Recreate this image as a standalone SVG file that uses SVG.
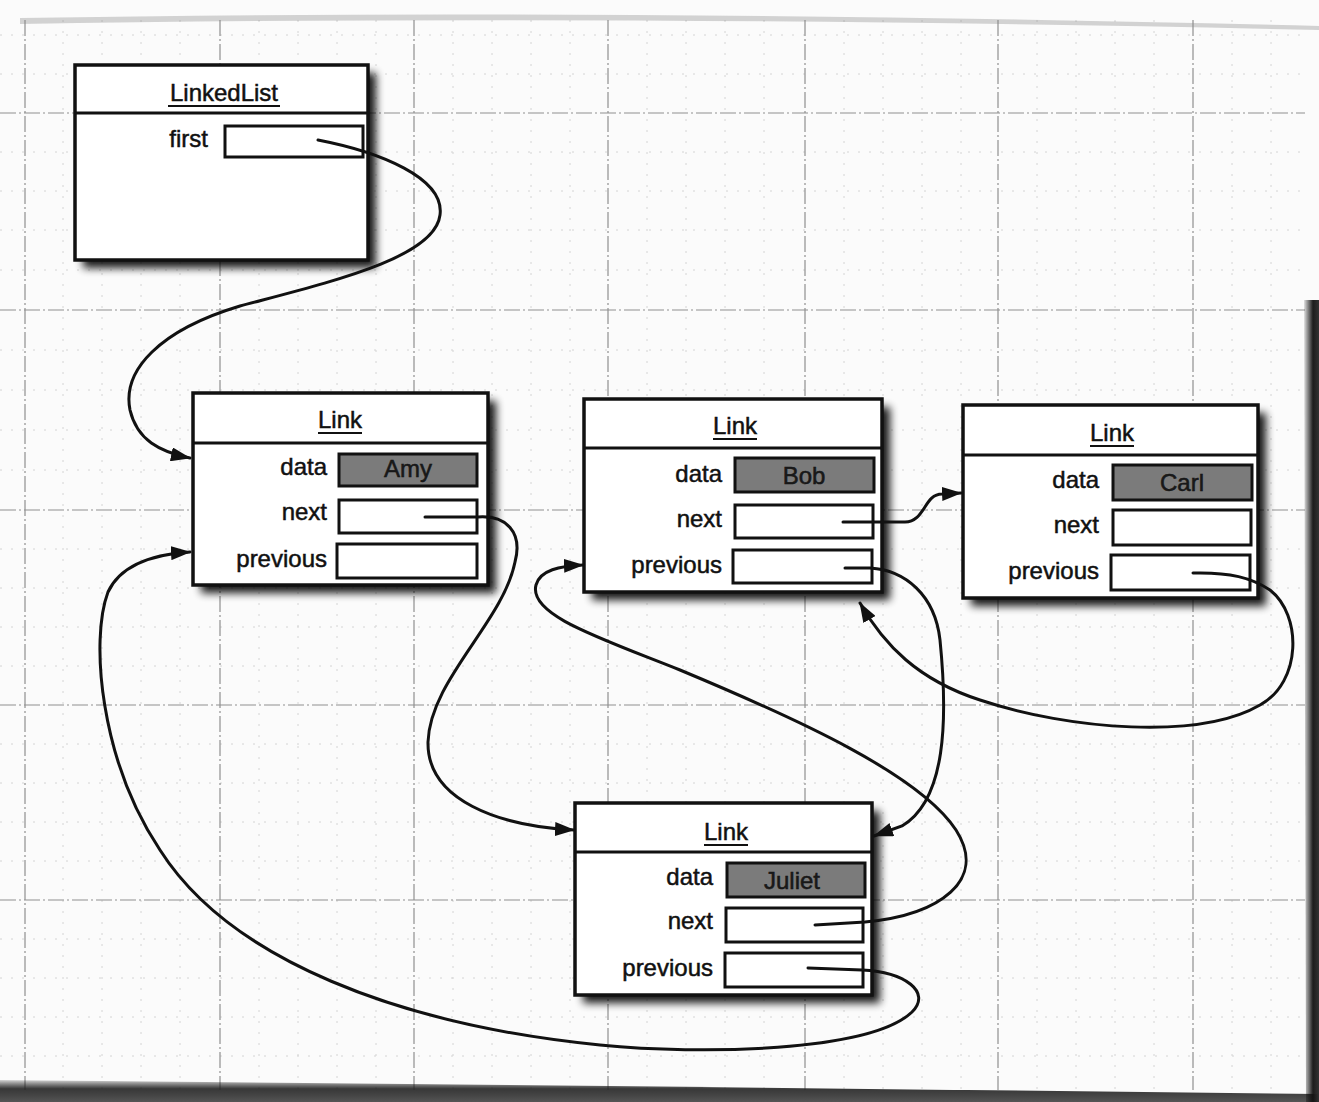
<svg xmlns="http://www.w3.org/2000/svg" width="1319" height="1102" viewBox="0 0 1319 1102">
<defs>
<style>
.bg{fill:#fbfbfb}
.gmaj{stroke:#8f8f8f;stroke-width:1.2;stroke-dasharray:16 3 2 3;fill:none}
.gmin{stroke:#d4d4d4;stroke-width:1;stroke-dasharray:2 9;fill:none}
.box{fill:#fff;stroke:#111;stroke-width:3.5}
.shadow{fill:#000;opacity:0.9;filter:url(#blur)}
.hdr{stroke:#111;stroke-width:3}
.fld{fill:#fff;stroke:#111;stroke-width:3}
.dat{fill:#7b7b7b;stroke:#111;stroke-width:3}
.t{font-family:"Liberation Sans",Arial,Helvetica,sans-serif;font-size:24px;fill:#111;stroke:#111;stroke-width:0.5}
.lbl{text-anchor:end}
.ttl{text-anchor:middle}
.val{text-anchor:middle;fill:#1a1a1a}
.ul{stroke:#111;stroke-width:2}
.conn{fill:none;stroke:#111;stroke-width:3;stroke-linecap:round}
</style>
<filter id="blur" x="-10%" y="-10%" width="130%" height="130%"><feGaussianBlur stdDeviation="4.5"/></filter>
<marker id="arr" viewBox="0 0 20 14" refX="19" refY="7" markerWidth="20" markerHeight="14" markerUnits="userSpaceOnUse" orient="auto"><path d="M0,0 L20,7 L0,14 z" fill="#111"/></marker>
<linearGradient id="bottomEdge" x1="0" y1="0" x2="0" y2="1"><stop offset="0" stop-color="#000" stop-opacity="0.15"/><stop offset="0.4" stop-color="#222" stop-opacity="0.9"/><stop offset="1" stop-color="#555" stop-opacity="1"/></linearGradient>
<linearGradient id="rightEdge" x1="0" y1="0" x2="1" y2="0"><stop offset="0" stop-color="#000" stop-opacity="0.1"/><stop offset="0.6" stop-color="#111" stop-opacity="0.95"/><stop offset="1" stop-color="#333"/></linearGradient>
</defs>
<rect class="bg" x="0" y="0" width="1319" height="1102"/>
<g id="grid">
<path class="gmin" d="M63,20V1090M102,20V1090M141,20V1090M180,20V1090M259,20V1090M298,20V1090M337,20V1090M376,20V1090M453,20V1090M492,20V1090M531,20V1090M570,20V1090M647,20V1090M686,20V1090M725,20V1090M764,20V1090M844,20V1090M883,20V1090M922,20V1090M961,20V1090M1037,20V1090M1076,20V1090M1115,20V1090M1154,20V1090M1232,20V1090M1271,20V1090"/>
<path class="gmin" d="M0,35H1305M0,74H1305M0,152H1305M0,191H1305M0,230H1305M0,270H1305M0,350H1305M0,390H1305M0,430H1305M0,470H1305M0,549H1305M0,588H1305M0,627H1305M0,666H1305M0,744H1305M0,783H1305M0,822H1305M0,861H1305M0,939H1305M0,978H1305M0,1017H1305M0,1056H1305"/>
<path class="gmaj" d="M25,20V1090M220,20V1090M414,20V1090M608,20V1090M805,20V1090M998,20V1090M1193,20V1090"/>
<path class="gmaj" d="M0,113H1305M0,310H1305M0,510H1305M0,705H1305M0,900H1305"/>
</g>
<g id="edges-scan">
<path d="M20,18 Q600,8 1319,26 L1319,30 Q600,14 20,24 z" fill="#888" opacity="0.35"/>
<path d="M0,1080 Q650,1086 1319,1094 L1319,1102 L0,1102 z" fill="url(#bottomEdge)"/>
<path d="M1304,300 L1319,300 L1319,1102 L1306,1102 z" fill="url(#rightEdge)"/>
</g>
<g id="node-linkedlist">
<rect class="shadow" x="83" y="73" width="293" height="195"/>
<rect class="box" x="75" y="65" width="293" height="195"/>
<line class="hdr" x1="75" y1="113" x2="368" y2="113"/>
<text class="t ttl" x="224" y="101">LinkedList</text>
<line class="ul" x1="168" y1="106" x2="280" y2="106"/>
<text class="t lbl" x="208" y="147">first</text>
<rect class="fld" x="225" y="126" width="138" height="31"/>
</g>
<g id="node-amy">
<rect class="shadow" x="201" y="401" width="295" height="192"/>
<rect class="box" x="193" y="393" width="295" height="192"/>
<line class="hdr" x1="193" y1="443" x2="488" y2="443"/>
<text class="t ttl" x="340" y="428">Link</text>
<line class="ul" x1="318" y1="433" x2="362" y2="433"/>
<text class="t lbl" x="327" y="475">data</text>
<rect class="dat" x="339" y="454" width="138" height="32"/>
<text class="t val" x="408" y="477">Amy</text>
<text class="t lbl" x="327" y="520">next</text>
<rect class="fld" x="339" y="500" width="138" height="33"/>
<text class="t lbl" x="327" y="567">previous</text>
<rect class="fld" x="337" y="544" width="140" height="34"/>
</g>
<g id="node-bob">
<rect class="shadow" x="592" y="407" width="298" height="193"/>
<rect class="box" x="584" y="399" width="298" height="193"/>
<line class="hdr" x1="584" y1="448" x2="882" y2="448"/>
<text class="t ttl" x="735" y="434">Link</text>
<line class="ul" x1="713" y1="439" x2="757" y2="439"/>
<text class="t lbl" x="722" y="482">data</text>
<rect class="dat" x="735" y="458" width="139" height="34"/>
<text class="t val" x="804" y="484">Bob</text>
<text class="t lbl" x="722" y="527">next</text>
<rect class="fld" x="735" y="505" width="138" height="33"/>
<text class="t lbl" x="722" y="573">previous</text>
<rect class="fld" x="733" y="550" width="139" height="33"/>
</g>
<g id="node-carl">
<rect class="shadow" x="971" y="413" width="295" height="193"/>
<rect class="box" x="963" y="405" width="295" height="193"/>
<line class="hdr" x1="963" y1="455" x2="1258" y2="455"/>
<text class="t ttl" x="1112" y="441">Link</text>
<line class="ul" x1="1090" y1="446" x2="1134" y2="446"/>
<text class="t lbl" x="1099" y="488">data</text>
<rect class="dat" x="1113" y="465" width="139" height="35"/>
<text class="t val" x="1182" y="491">Carl</text>
<text class="t lbl" x="1099" y="533">next</text>
<rect class="fld" x="1113" y="510" width="138" height="35"/>
<text class="t lbl" x="1099" y="579">previous</text>
<rect class="fld" x="1111" y="555" width="139" height="35"/>
</g>
<g id="node-juliet">
<rect class="shadow" x="583" y="811" width="297" height="192"/>
<rect class="box" x="575" y="803" width="297" height="192"/>
<line class="hdr" x1="575" y1="852" x2="872" y2="852"/>
<text class="t ttl" x="726" y="840">Link</text>
<line class="ul" x1="704" y1="845" x2="748" y2="845"/>
<text class="t lbl" x="713" y="885">data</text>
<rect class="dat" x="727" y="863" width="138" height="34"/>
<text class="t val" x="792" y="889">Juliet</text>
<text class="t lbl" x="713" y="929">next</text>
<rect class="fld" x="726" y="908" width="137" height="34"/>
<text class="t lbl" x="713" y="976">previous</text>
<rect class="fld" x="725" y="953" width="138" height="34"/>
</g>
<g id="connectors">
<path class="conn" marker-end="url(#arr)" d="M318,140 C380,152 445,178 440,215 C435,258 330,282 240,306 C160,330 122,370 130,410 C137,440 160,452 190,458"/>
<path class="conn" marker-end="url(#arr)" d="M425,517 L478,517 C506,515 523,532 515,562 C503,622 430,680 428,742 C427,800 498,826 574,830"/>
<path class="conn" marker-end="url(#arr)" d="M808,968 L862,970 C905,972 932,992 912,1012 C870,1052 700,1055 600,1045 C400,1025 230,960 160,850 C100,760 90,640 108,592 C122,562 158,554 190,552"/>
<path class="conn" marker-end="url(#arr)" d="M843,522 L905,522 C925,522 924,494 942,494 L961,493"/>
<path class="conn" marker-end="url(#arr)" d="M845,568 L870,568 C905,570 935,595 940,640 C948,720 946,800 902,826 L874,836"/>
<path class="conn" marker-end="url(#arr)" d="M815,925 L865,922 C940,915 988,880 956,830 C920,775 800,720 680,670 C600,638 528,615 536,585 C540,570 560,566 583,565"/>
<path class="conn" marker-end="url(#arr)" d="M1193,573 C1230,572 1252,578 1270,590 C1302,615 1302,682 1260,705 C1200,740 1070,730 980,700 C918,680 884,645 860,603"/>
</g>
</svg>
